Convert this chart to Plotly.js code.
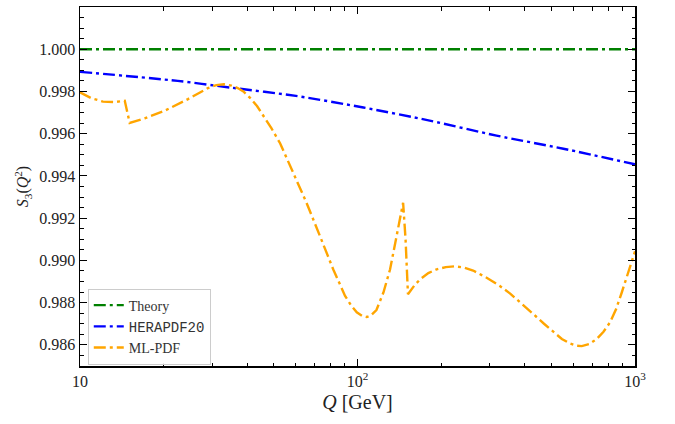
<!DOCTYPE html>
<html>
<head>
<meta charset="utf-8">
<script src="https://cdn.plot.ly/plotly-3.0.1.min.js"></script>
<style>
  html, body { margin: 0; padding: 0; background: #fff; }
  #chart { width: 675px; height: 424px; }
</style>
</head>
<body>
<div id="chart"></div>
<script>
// Q grid and S_3(Q^2) values for each curve
const theoryQ = [10, 1000];
const theoryS = [1.0, 1.0];

const heraQ = [10, 22.5, 35, 60, 105, 182, 317, 552, 1000];
const heraS = [0.99893, 0.99850, 0.99818, 0.99779, 0.99724, 0.99662, 0.99591, 0.99529, 0.99455];

const mlQ = [10, 11, 12.1, 13.3, 14.5, 14.8, 15.1, 17.1, 20.2, 24.5, 28.9, 31, 33, 35.1, 37,
             38.8, 41, 43.5, 46, 49, 52.6, 58.8, 65.6, 73.3, 81.8, 90.2, 95, 99.4, 104, 108,
             112, 117, 124, 131, 136, 140, 143, 146, 149, 151, 152, 160, 168, 180, 193, 208,
             224, 242, 261, 292, 325, 355, 390, 430, 470, 508, 545, 584, 615, 643, 685, 728,
             770, 813, 855, 896, 935, 973, 1000];
const mlS = [0.99796, 0.99768, 0.99752, 0.99750, 0.99756, 0.99700, 0.99651, 0.99673, 0.99709,
             0.99764, 0.99816, 0.99830, 0.99834, 0.99828, 0.99816, 0.99800, 0.99770, 0.99730,
             0.99682, 0.99625, 0.99555, 0.99411, 0.99271, 0.99114, 0.98957, 0.98832, 0.98785,
             0.98754, 0.98737, 0.98732, 0.98740, 0.98765, 0.98848, 0.98957, 0.99067, 0.99161,
             0.99220, 0.99273, 0.99100, 0.98910, 0.98840, 0.98880, 0.98910, 0.98940, 0.98958,
             0.98968, 0.98972, 0.98966, 0.98952, 0.98918, 0.98880, 0.98843, 0.98797, 0.98746,
             0.98700, 0.98660, 0.98628, 0.98606, 0.98596, 0.98594, 0.98604, 0.98628, 0.98662,
             0.98707, 0.98770, 0.98848, 0.98920, 0.98989, 0.99043];

const xTickVals = [10, 100, 1000];
const xTickText = ['10', '10<sup>2</sup>', '10<sup>3</sup>'];
const xMinorVals = [20, 30, 40, 50, 60, 70, 80, 90, 200, 300, 400, 500, 600, 700, 800, 900];
const yTickVals = [0.986, 0.988, 0.990, 0.992, 0.994, 0.996, 0.998, 1.000, 1.002];
const yTickText = ['0.986', '0.988', '0.990', '0.992', '0.994', '0.996', '0.998', '1.000', '1.002'];

const dashDot = '12px,4px,3px,4px';
const serif = 'Liberation Serif, DejaVu Serif, serif';

const traces = [
  {
    x: theoryQ, y: theoryS, name: 'Theory', mode: 'lines',
    line: { color: '#008000', width: 2.4, dash: dashDot }
  },
  {
    x: heraQ, y: heraS, name: '<span style="font-family:Liberation Mono, DejaVu Sans Mono, monospace">HERAPDF20</span>',
    mode: 'lines',
    line: { color: '#0000ff', width: 2.4, dash: dashDot, shape: 'spline', smoothing: 0.8 }
  },
  {
    x: mlQ, y: mlS, name: 'ML-PDF', mode: 'lines',
    line: { color: '#ffa500', width: 2.4, dash: dashDot }
  }
];

const layout = {
  width: 675, height: 424,
  margin: { l: 80, r: 40, t: 7, b: 58 },
  paper_bgcolor: '#fff', plot_bgcolor: '#fff',
  font: { family: serif, size: 16, color: '#000' },
  showlegend: true,
  legend: {
    x: 0.014, y: 0.004, xanchor: 'left', yanchor: 'bottom',
    bgcolor: 'rgba(255,255,255,0.9)', bordercolor: '#cccccc', borderwidth: 1,
    font: { family: serif, size: 14, color: '#333' },
    tracegroupgap: 0, itemwidth: 30
  },
  xaxis: {
    type: 'log', range: [1, 3],
    tickvals: xTickVals, ticktext: xTickText,
    ticks: 'inside', ticklen: 7, tickwidth: 1, tickcolor: '#000',
    showline: true, linecolor: '#000', linewidth: 1.5, mirror: 'allticks',
    showgrid: false, zeroline: false,
    tickfont: { family: serif, size: 16, color: '#222' },
    minor: { tickvals: xMinorVals, ticks: 'inside', ticklen: 3.5, tickwidth: 1, tickcolor: '#000', showgrid: false },
    title: { text: '<i>Q</i> [GeV]', font: { family: serif, size: 20, color: '#222' }, standoff: 6 }
  },
  yaxis: {
    range: [0.985, 1.002],
    tickvals: yTickVals, ticktext: yTickText,
    ticks: 'inside', ticklen: 7, tickwidth: 1, tickcolor: '#000',
    showline: true, linecolor: '#000', linewidth: 1.5, mirror: 'allticks',
    showgrid: false, zeroline: false,
    tickfont: { family: serif, size: 16, color: '#222' },
    minor: { dtick: 0.0005, ticks: 'inside', ticklen: 3.5, tickwidth: 1, tickcolor: '#000', showgrid: false },
    title: { text: '<i>S</i><sub>3</sub>(<i>Q</i><sup>2</sup>)', font: { family: serif, size: 16, color: '#222' }, standoff: 6 }
  }
};

Plotly.newPlot('chart', traces, layout, { staticPlot: true, displayModeBar: false });
</script>
</body>
</html>
